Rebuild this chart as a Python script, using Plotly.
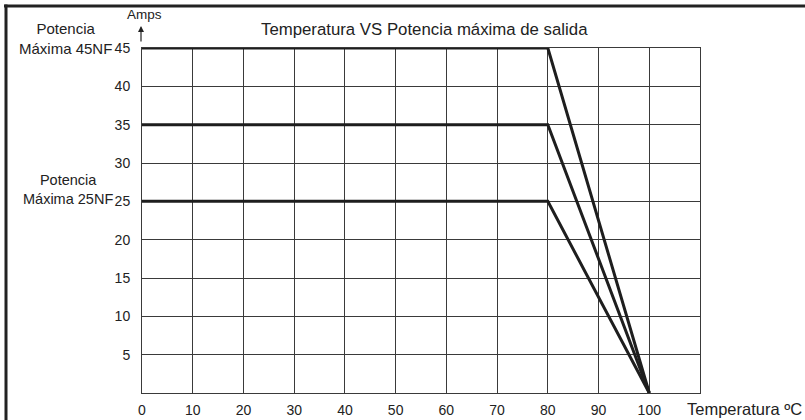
import plotly.graph_objects as go

# Data
temp = [0, 80, 100]
amps_45nf = [45, 45, 0]
amps_35 = [35, 35, 0]
amps_25nf = [25, 25, 0]
x_ticks = [0, 10, 20, 30, 40, 50, 60, 70, 80, 90, 100]
y_ticks = [5, 10, 15, 20, 25, 30, 35, 40, 45]

W, H = 805, 420
PLOT_L, PLOT_R, PLOT_T, PLOT_B = 142, 700, 48, 393


def px(x):
    return x / W


def py(y):
    return 1 - y / H


fig = go.Figure()
for ys in (amps_45nf, amps_35, amps_25nf):
    fig.add_trace(go.Scatter(x=temp, y=ys, mode="lines",
                             line=dict(color="#1e1e1e", width=3),
                             showlegend=False, hoverinfo="skip"))

font = "Liberation Sans, Arial, sans-serif"
fig.update_layout(
    width=W, height=H,
    margin=dict(l=0, r=0, t=0, b=0, pad=0, autoexpand=False),
    paper_bgcolor="white", plot_bgcolor="white",
    font=dict(family=font, size=14, color="#222"),
    xaxis=dict(domain=[px(PLOT_L), px(PLOT_R)], range=[0, 110], tickvals=x_ticks,
               showgrid=True, automargin=False,
               gridcolor="#3a3a3a", gridwidth=1, showline=True, mirror=True,
               linecolor="#3a3a3a", linewidth=1, zeroline=False,
               ticks="", ticklabelstandoff=4,
               tickfont=dict(size=14, family=font, color="#222")),
    yaxis=dict(domain=[py(PLOT_B), py(PLOT_T)], range=[0, 45], tickvals=y_ticks,
               showgrid=True, automargin=False,
               gridcolor="#3a3a3a", gridwidth=1, showline=True, mirror=True,
               linecolor="#3a3a3a", linewidth=1, zeroline=False,
               ticks="", ticklabelstandoff=8,
               tickfont=dict(size=14, family=font, color="#222")),
)

ann = [
    dict(text="Temperatura VS Potencia máxima de salida", x=px(424), y=py(30),
         font=dict(size=16.8)),
    dict(text="Temperatura ºC", x=px(685), y=py(409), xanchor="left",
         font=dict(size=16.5)),
    dict(text="Amps", x=px(144), y=py(15), font=dict(size=13.5)),
    dict(text="Potencia<br>Máxima 45NF", x=px(65), y=py(38.5), font=dict(size=15)),
    dict(text="Potencia<br>Máxima 25NF", x=px(68), y=py(190), font=dict(size=14.5)),
]
for a in ann:
    a.setdefault("xanchor", "center")
    fig.add_annotation(xref="paper", yref="paper", showarrow=False,
                       yanchor="middle", **a)

# Arrow on the y axis
fig.add_annotation(xref="paper", yref="paper", x=px(141), y=py(26),
                   ax=0, ay=17, axref="pixel", ayref="pixel", text="",
                   showarrow=True, arrowhead=2, arrowsize=1, arrowwidth=1.2,
                   arrowcolor="#222")

# Frame: top edge and left edge
fig.add_shape(type="rect", xref="paper", yref="paper",
              x0=px(4), x1=px(805), y0=py(4.5), y1=py(7.5),
              line=dict(width=0), fillcolor="#222", layer="above")
fig.add_shape(type="rect", xref="paper", yref="paper",
              x0=px(4.5), x1=px(7.5), y0=py(4.5), y1=py(420),
              line=dict(width=0), fillcolor="#222", layer="above")

fig.write_html("out.html", config={"displayModeBar": False},
               post_script="document.body.style.margin='0';document.body.style.overflow='hidden';")
